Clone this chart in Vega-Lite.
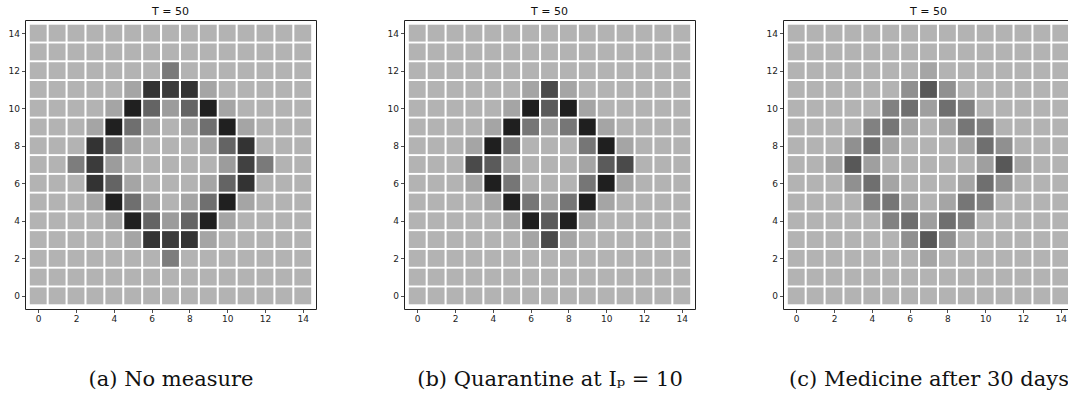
{
  "$schema": "https://vega.github.io/schema/vega-lite/v6.json",
  "background": "white",
  "padding": {"left": 7, "top": 5, "right": 0, "bottom": 0},
  "spacing": 69,
  "data": {"values": [
    {"p":"a","x":0,"y":14,"v":0},{"p":"a","x":1,"y":14,"v":0},{"p":"a","x":2,"y":14,"v":0},{"p":"a","x":3,"y":14,"v":0},{"p":"a","x":4,"y":14,"v":0},{"p":"a","x":5,"y":14,"v":0},{"p":"a","x":6,"y":14,"v":0},{"p":"a","x":7,"y":14,"v":0},{"p":"a","x":8,"y":14,"v":0},{"p":"a","x":9,"y":14,"v":0},{"p":"a","x":10,"y":14,"v":0},{"p":"a","x":11,"y":14,"v":0},{"p":"a","x":12,"y":14,"v":0},{"p":"a","x":13,"y":14,"v":0},{"p":"a","x":14,"y":14,"v":0},
    {"p":"a","x":0,"y":13,"v":0},{"p":"a","x":1,"y":13,"v":0},{"p":"a","x":2,"y":13,"v":0},{"p":"a","x":3,"y":13,"v":0},{"p":"a","x":4,"y":13,"v":0},{"p":"a","x":5,"y":13,"v":0},{"p":"a","x":6,"y":13,"v":0},{"p":"a","x":7,"y":13,"v":0},{"p":"a","x":8,"y":13,"v":0},{"p":"a","x":9,"y":13,"v":0},{"p":"a","x":10,"y":13,"v":0},{"p":"a","x":11,"y":13,"v":0},{"p":"a","x":12,"y":13,"v":0},{"p":"a","x":13,"y":13,"v":0},{"p":"a","x":14,"y":13,"v":0},
    {"p":"a","x":0,"y":12,"v":0},{"p":"a","x":1,"y":12,"v":0},{"p":"a","x":2,"y":12,"v":0},{"p":"a","x":3,"y":12,"v":0},{"p":"a","x":4,"y":12,"v":0},{"p":"a","x":5,"y":12,"v":0},{"p":"a","x":6,"y":12,"v":0},{"p":"a","x":7,"y":12,"v":0.3},{"p":"a","x":8,"y":12,"v":0},{"p":"a","x":9,"y":12,"v":0},{"p":"a","x":10,"y":12,"v":0},{"p":"a","x":11,"y":12,"v":0},{"p":"a","x":12,"y":12,"v":0},{"p":"a","x":13,"y":12,"v":0},{"p":"a","x":14,"y":12,"v":0},
    {"p":"a","x":0,"y":11,"v":0},{"p":"a","x":1,"y":11,"v":0},{"p":"a","x":2,"y":11,"v":0},{"p":"a","x":3,"y":11,"v":0},{"p":"a","x":4,"y":11,"v":0},{"p":"a","x":5,"y":11,"v":0.07},{"p":"a","x":6,"y":11,"v":0.71},{"p":"a","x":7,"y":11,"v":0.66},{"p":"a","x":8,"y":11,"v":0.71},{"p":"a","x":9,"y":11,"v":0.07},{"p":"a","x":10,"y":11,"v":0},{"p":"a","x":11,"y":11,"v":0},{"p":"a","x":12,"y":11,"v":0},{"p":"a","x":13,"y":11,"v":0},{"p":"a","x":14,"y":11,"v":0},
    {"p":"a","x":0,"y":10,"v":0},{"p":"a","x":1,"y":10,"v":0},{"p":"a","x":2,"y":10,"v":0},{"p":"a","x":3,"y":10,"v":0},{"p":"a","x":4,"y":10,"v":0.07},{"p":"a","x":5,"y":10,"v":0.83},{"p":"a","x":6,"y":10,"v":0.42},{"p":"a","x":7,"y":10,"v":0.12},{"p":"a","x":8,"y":10,"v":0.42},{"p":"a","x":9,"y":10,"v":0.83},{"p":"a","x":10,"y":10,"v":0.07},{"p":"a","x":11,"y":10,"v":0},{"p":"a","x":12,"y":10,"v":0},{"p":"a","x":13,"y":10,"v":0},{"p":"a","x":14,"y":10,"v":0},
    {"p":"a","x":0,"y":9,"v":0},{"p":"a","x":1,"y":9,"v":0},{"p":"a","x":2,"y":9,"v":0},{"p":"a","x":3,"y":9,"v":0.07},{"p":"a","x":4,"y":9,"v":0.83},{"p":"a","x":5,"y":9,"v":0.36},{"p":"a","x":6,"y":9,"v":0.07},{"p":"a","x":7,"y":9,"v":0},{"p":"a","x":8,"y":9,"v":0.07},{"p":"a","x":9,"y":9,"v":0.36},{"p":"a","x":10,"y":9,"v":0.83},{"p":"a","x":11,"y":9,"v":0.07},{"p":"a","x":12,"y":9,"v":0},{"p":"a","x":13,"y":9,"v":0},{"p":"a","x":14,"y":9,"v":0},
    {"p":"a","x":0,"y":8,"v":0},{"p":"a","x":1,"y":8,"v":0},{"p":"a","x":2,"y":8,"v":0},{"p":"a","x":3,"y":8,"v":0.71},{"p":"a","x":4,"y":8,"v":0.42},{"p":"a","x":5,"y":8,"v":0.07},{"p":"a","x":6,"y":8,"v":0},{"p":"a","x":7,"y":8,"v":0},{"p":"a","x":8,"y":8,"v":0},{"p":"a","x":9,"y":8,"v":0.07},{"p":"a","x":10,"y":8,"v":0.42},{"p":"a","x":11,"y":8,"v":0.71},{"p":"a","x":12,"y":8,"v":0},{"p":"a","x":13,"y":8,"v":0},{"p":"a","x":14,"y":8,"v":0},
    {"p":"a","x":0,"y":7,"v":0},{"p":"a","x":1,"y":7,"v":0},{"p":"a","x":2,"y":7,"v":0.28},{"p":"a","x":3,"y":7,"v":0.66},{"p":"a","x":4,"y":7,"v":0.12},{"p":"a","x":5,"y":7,"v":0},{"p":"a","x":6,"y":7,"v":0},{"p":"a","x":7,"y":7,"v":0},{"p":"a","x":8,"y":7,"v":0},{"p":"a","x":9,"y":7,"v":0},{"p":"a","x":10,"y":7,"v":0.12},{"p":"a","x":11,"y":7,"v":0.62},{"p":"a","x":12,"y":7,"v":0.3},{"p":"a","x":13,"y":7,"v":0},{"p":"a","x":14,"y":7,"v":0},
    {"p":"a","x":0,"y":6,"v":0},{"p":"a","x":1,"y":6,"v":0},{"p":"a","x":2,"y":6,"v":0},{"p":"a","x":3,"y":6,"v":0.71},{"p":"a","x":4,"y":6,"v":0.42},{"p":"a","x":5,"y":6,"v":0.07},{"p":"a","x":6,"y":6,"v":0},{"p":"a","x":7,"y":6,"v":0},{"p":"a","x":8,"y":6,"v":0},{"p":"a","x":9,"y":6,"v":0.07},{"p":"a","x":10,"y":6,"v":0.42},{"p":"a","x":11,"y":6,"v":0.71},{"p":"a","x":12,"y":6,"v":0},{"p":"a","x":13,"y":6,"v":0},{"p":"a","x":14,"y":6,"v":0},
    {"p":"a","x":0,"y":5,"v":0},{"p":"a","x":1,"y":5,"v":0},{"p":"a","x":2,"y":5,"v":0},{"p":"a","x":3,"y":5,"v":0.07},{"p":"a","x":4,"y":5,"v":0.83},{"p":"a","x":5,"y":5,"v":0.36},{"p":"a","x":6,"y":5,"v":0.07},{"p":"a","x":7,"y":5,"v":0},{"p":"a","x":8,"y":5,"v":0.07},{"p":"a","x":9,"y":5,"v":0.36},{"p":"a","x":10,"y":5,"v":0.83},{"p":"a","x":11,"y":5,"v":0.07},{"p":"a","x":12,"y":5,"v":0},{"p":"a","x":13,"y":5,"v":0},{"p":"a","x":14,"y":5,"v":0},
    {"p":"a","x":0,"y":4,"v":0},{"p":"a","x":1,"y":4,"v":0},{"p":"a","x":2,"y":4,"v":0},{"p":"a","x":3,"y":4,"v":0},{"p":"a","x":4,"y":4,"v":0.07},{"p":"a","x":5,"y":4,"v":0.83},{"p":"a","x":6,"y":4,"v":0.42},{"p":"a","x":7,"y":4,"v":0.12},{"p":"a","x":8,"y":4,"v":0.42},{"p":"a","x":9,"y":4,"v":0.83},{"p":"a","x":10,"y":4,"v":0.07},{"p":"a","x":11,"y":4,"v":0},{"p":"a","x":12,"y":4,"v":0},{"p":"a","x":13,"y":4,"v":0},{"p":"a","x":14,"y":4,"v":0},
    {"p":"a","x":0,"y":3,"v":0},{"p":"a","x":1,"y":3,"v":0},{"p":"a","x":2,"y":3,"v":0},{"p":"a","x":3,"y":3,"v":0},{"p":"a","x":4,"y":3,"v":0},{"p":"a","x":5,"y":3,"v":0.07},{"p":"a","x":6,"y":3,"v":0.71},{"p":"a","x":7,"y":3,"v":0.66},{"p":"a","x":8,"y":3,"v":0.71},{"p":"a","x":9,"y":3,"v":0.07},{"p":"a","x":10,"y":3,"v":0},{"p":"a","x":11,"y":3,"v":0},{"p":"a","x":12,"y":3,"v":0},{"p":"a","x":13,"y":3,"v":0},{"p":"a","x":14,"y":3,"v":0},
    {"p":"a","x":0,"y":2,"v":0},{"p":"a","x":1,"y":2,"v":0},{"p":"a","x":2,"y":2,"v":0},{"p":"a","x":3,"y":2,"v":0},{"p":"a","x":4,"y":2,"v":0},{"p":"a","x":5,"y":2,"v":0},{"p":"a","x":6,"y":2,"v":0},{"p":"a","x":7,"y":2,"v":0.28},{"p":"a","x":8,"y":2,"v":0},{"p":"a","x":9,"y":2,"v":0},{"p":"a","x":10,"y":2,"v":0},{"p":"a","x":11,"y":2,"v":0},{"p":"a","x":12,"y":2,"v":0},{"p":"a","x":13,"y":2,"v":0},{"p":"a","x":14,"y":2,"v":0},
    {"p":"a","x":0,"y":1,"v":0},{"p":"a","x":1,"y":1,"v":0},{"p":"a","x":2,"y":1,"v":0},{"p":"a","x":3,"y":1,"v":0},{"p":"a","x":4,"y":1,"v":0},{"p":"a","x":5,"y":1,"v":0},{"p":"a","x":6,"y":1,"v":0},{"p":"a","x":7,"y":1,"v":0},{"p":"a","x":8,"y":1,"v":0},{"p":"a","x":9,"y":1,"v":0},{"p":"a","x":10,"y":1,"v":0},{"p":"a","x":11,"y":1,"v":0},{"p":"a","x":12,"y":1,"v":0},{"p":"a","x":13,"y":1,"v":0},{"p":"a","x":14,"y":1,"v":0},
    {"p":"a","x":0,"y":0,"v":0},{"p":"a","x":1,"y":0,"v":0},{"p":"a","x":2,"y":0,"v":0},{"p":"a","x":3,"y":0,"v":0},{"p":"a","x":4,"y":0,"v":0},{"p":"a","x":5,"y":0,"v":0},{"p":"a","x":6,"y":0,"v":0},{"p":"a","x":7,"y":0,"v":0},{"p":"a","x":8,"y":0,"v":0},{"p":"a","x":9,"y":0,"v":0},{"p":"a","x":10,"y":0,"v":0},{"p":"a","x":11,"y":0,"v":0},{"p":"a","x":12,"y":0,"v":0},{"p":"a","x":13,"y":0,"v":0},{"p":"a","x":14,"y":0,"v":0},

    {"p":"b","x":0,"y":14,"v":0},{"p":"b","x":1,"y":14,"v":0},{"p":"b","x":2,"y":14,"v":0},{"p":"b","x":3,"y":14,"v":0},{"p":"b","x":4,"y":14,"v":0},{"p":"b","x":5,"y":14,"v":0},{"p":"b","x":6,"y":14,"v":0},{"p":"b","x":7,"y":14,"v":0},{"p":"b","x":8,"y":14,"v":0},{"p":"b","x":9,"y":14,"v":0},{"p":"b","x":10,"y":14,"v":0},{"p":"b","x":11,"y":14,"v":0},{"p":"b","x":12,"y":14,"v":0},{"p":"b","x":13,"y":14,"v":0},{"p":"b","x":14,"y":14,"v":0},
    {"p":"b","x":0,"y":13,"v":0},{"p":"b","x":1,"y":13,"v":0},{"p":"b","x":2,"y":13,"v":0},{"p":"b","x":3,"y":13,"v":0},{"p":"b","x":4,"y":13,"v":0},{"p":"b","x":5,"y":13,"v":0},{"p":"b","x":6,"y":13,"v":0},{"p":"b","x":7,"y":13,"v":0},{"p":"b","x":8,"y":13,"v":0},{"p":"b","x":9,"y":13,"v":0},{"p":"b","x":10,"y":13,"v":0},{"p":"b","x":11,"y":13,"v":0},{"p":"b","x":12,"y":13,"v":0},{"p":"b","x":13,"y":13,"v":0},{"p":"b","x":14,"y":13,"v":0},
    {"p":"b","x":0,"y":12,"v":0},{"p":"b","x":1,"y":12,"v":0},{"p":"b","x":2,"y":12,"v":0},{"p":"b","x":3,"y":12,"v":0},{"p":"b","x":4,"y":12,"v":0},{"p":"b","x":5,"y":12,"v":0},{"p":"b","x":6,"y":12,"v":0},{"p":"b","x":7,"y":12,"v":0},{"p":"b","x":8,"y":12,"v":0},{"p":"b","x":9,"y":12,"v":0},{"p":"b","x":10,"y":12,"v":0},{"p":"b","x":11,"y":12,"v":0},{"p":"b","x":12,"y":12,"v":0},{"p":"b","x":13,"y":12,"v":0},{"p":"b","x":14,"y":12,"v":0},
    {"p":"b","x":0,"y":11,"v":0},{"p":"b","x":1,"y":11,"v":0},{"p":"b","x":2,"y":11,"v":0},{"p":"b","x":3,"y":11,"v":0},{"p":"b","x":4,"y":11,"v":0},{"p":"b","x":5,"y":11,"v":0},{"p":"b","x":6,"y":11,"v":0.07},{"p":"b","x":7,"y":11,"v":0.57},{"p":"b","x":8,"y":11,"v":0.07},{"p":"b","x":9,"y":11,"v":0},{"p":"b","x":10,"y":11,"v":0},{"p":"b","x":11,"y":11,"v":0},{"p":"b","x":12,"y":11,"v":0},{"p":"b","x":13,"y":11,"v":0},{"p":"b","x":14,"y":11,"v":0},
    {"p":"b","x":0,"y":10,"v":0},{"p":"b","x":1,"y":10,"v":0},{"p":"b","x":2,"y":10,"v":0},{"p":"b","x":3,"y":10,"v":0},{"p":"b","x":4,"y":10,"v":0},{"p":"b","x":5,"y":10,"v":0.07},{"p":"b","x":6,"y":10,"v":0.84},{"p":"b","x":7,"y":10,"v":0.47},{"p":"b","x":8,"y":10,"v":0.84},{"p":"b","x":9,"y":10,"v":0.07},{"p":"b","x":10,"y":10,"v":0},{"p":"b","x":11,"y":10,"v":0},{"p":"b","x":12,"y":10,"v":0},{"p":"b","x":13,"y":10,"v":0},{"p":"b","x":14,"y":10,"v":0},
    {"p":"b","x":0,"y":9,"v":0},{"p":"b","x":1,"y":9,"v":0},{"p":"b","x":2,"y":9,"v":0},{"p":"b","x":3,"y":9,"v":0},{"p":"b","x":4,"y":9,"v":0.07},{"p":"b","x":5,"y":9,"v":0.84},{"p":"b","x":6,"y":9,"v":0.32},{"p":"b","x":7,"y":9,"v":0.07},{"p":"b","x":8,"y":9,"v":0.32},{"p":"b","x":9,"y":9,"v":0.84},{"p":"b","x":10,"y":9,"v":0.07},{"p":"b","x":11,"y":9,"v":0},{"p":"b","x":12,"y":9,"v":0},{"p":"b","x":13,"y":9,"v":0},{"p":"b","x":14,"y":9,"v":0},
    {"p":"b","x":0,"y":8,"v":0},{"p":"b","x":1,"y":8,"v":0},{"p":"b","x":2,"y":8,"v":0},{"p":"b","x":3,"y":8,"v":0.07},{"p":"b","x":4,"y":8,"v":0.84},{"p":"b","x":5,"y":8,"v":0.32},{"p":"b","x":6,"y":8,"v":0},{"p":"b","x":7,"y":8,"v":0},{"p":"b","x":8,"y":8,"v":0},{"p":"b","x":9,"y":8,"v":0.32},{"p":"b","x":10,"y":8,"v":0.84},{"p":"b","x":11,"y":8,"v":0.07},{"p":"b","x":12,"y":8,"v":0},{"p":"b","x":13,"y":8,"v":0},{"p":"b","x":14,"y":8,"v":0},
    {"p":"b","x":0,"y":7,"v":0},{"p":"b","x":1,"y":7,"v":0},{"p":"b","x":2,"y":7,"v":0},{"p":"b","x":3,"y":7,"v":0.57},{"p":"b","x":4,"y":7,"v":0.47},{"p":"b","x":5,"y":7,"v":0.07},{"p":"b","x":6,"y":7,"v":0},{"p":"b","x":7,"y":7,"v":0},{"p":"b","x":8,"y":7,"v":0},{"p":"b","x":9,"y":7,"v":0.07},{"p":"b","x":10,"y":7,"v":0.47},{"p":"b","x":11,"y":7,"v":0.57},{"p":"b","x":12,"y":7,"v":0},{"p":"b","x":13,"y":7,"v":0},{"p":"b","x":14,"y":7,"v":0},
    {"p":"b","x":0,"y":6,"v":0},{"p":"b","x":1,"y":6,"v":0},{"p":"b","x":2,"y":6,"v":0},{"p":"b","x":3,"y":6,"v":0.07},{"p":"b","x":4,"y":6,"v":0.84},{"p":"b","x":5,"y":6,"v":0.32},{"p":"b","x":6,"y":6,"v":0},{"p":"b","x":7,"y":6,"v":0},{"p":"b","x":8,"y":6,"v":0},{"p":"b","x":9,"y":6,"v":0.32},{"p":"b","x":10,"y":6,"v":0.84},{"p":"b","x":11,"y":6,"v":0.07},{"p":"b","x":12,"y":6,"v":0},{"p":"b","x":13,"y":6,"v":0},{"p":"b","x":14,"y":6,"v":0},
    {"p":"b","x":0,"y":5,"v":0},{"p":"b","x":1,"y":5,"v":0},{"p":"b","x":2,"y":5,"v":0},{"p":"b","x":3,"y":5,"v":0},{"p":"b","x":4,"y":5,"v":0.07},{"p":"b","x":5,"y":5,"v":0.84},{"p":"b","x":6,"y":5,"v":0.32},{"p":"b","x":7,"y":5,"v":0.07},{"p":"b","x":8,"y":5,"v":0.32},{"p":"b","x":9,"y":5,"v":0.84},{"p":"b","x":10,"y":5,"v":0.07},{"p":"b","x":11,"y":5,"v":0},{"p":"b","x":12,"y":5,"v":0},{"p":"b","x":13,"y":5,"v":0},{"p":"b","x":14,"y":5,"v":0},
    {"p":"b","x":0,"y":4,"v":0},{"p":"b","x":1,"y":4,"v":0},{"p":"b","x":2,"y":4,"v":0},{"p":"b","x":3,"y":4,"v":0},{"p":"b","x":4,"y":4,"v":0},{"p":"b","x":5,"y":4,"v":0.07},{"p":"b","x":6,"y":4,"v":0.84},{"p":"b","x":7,"y":4,"v":0.47},{"p":"b","x":8,"y":4,"v":0.84},{"p":"b","x":9,"y":4,"v":0.07},{"p":"b","x":10,"y":4,"v":0},{"p":"b","x":11,"y":4,"v":0},{"p":"b","x":12,"y":4,"v":0},{"p":"b","x":13,"y":4,"v":0},{"p":"b","x":14,"y":4,"v":0},
    {"p":"b","x":0,"y":3,"v":0},{"p":"b","x":1,"y":3,"v":0},{"p":"b","x":2,"y":3,"v":0},{"p":"b","x":3,"y":3,"v":0},{"p":"b","x":4,"y":3,"v":0},{"p":"b","x":5,"y":3,"v":0},{"p":"b","x":6,"y":3,"v":0.07},{"p":"b","x":7,"y":3,"v":0.57},{"p":"b","x":8,"y":3,"v":0.07},{"p":"b","x":9,"y":3,"v":0},{"p":"b","x":10,"y":3,"v":0},{"p":"b","x":11,"y":3,"v":0},{"p":"b","x":12,"y":3,"v":0},{"p":"b","x":13,"y":3,"v":0},{"p":"b","x":14,"y":3,"v":0},
    {"p":"b","x":0,"y":2,"v":0},{"p":"b","x":1,"y":2,"v":0},{"p":"b","x":2,"y":2,"v":0},{"p":"b","x":3,"y":2,"v":0},{"p":"b","x":4,"y":2,"v":0},{"p":"b","x":5,"y":2,"v":0},{"p":"b","x":6,"y":2,"v":0},{"p":"b","x":7,"y":2,"v":0},{"p":"b","x":8,"y":2,"v":0},{"p":"b","x":9,"y":2,"v":0},{"p":"b","x":10,"y":2,"v":0},{"p":"b","x":11,"y":2,"v":0},{"p":"b","x":12,"y":2,"v":0},{"p":"b","x":13,"y":2,"v":0},{"p":"b","x":14,"y":2,"v":0},
    {"p":"b","x":0,"y":1,"v":0},{"p":"b","x":1,"y":1,"v":0},{"p":"b","x":2,"y":1,"v":0},{"p":"b","x":3,"y":1,"v":0},{"p":"b","x":4,"y":1,"v":0},{"p":"b","x":5,"y":1,"v":0},{"p":"b","x":6,"y":1,"v":0},{"p":"b","x":7,"y":1,"v":0},{"p":"b","x":8,"y":1,"v":0},{"p":"b","x":9,"y":1,"v":0},{"p":"b","x":10,"y":1,"v":0},{"p":"b","x":11,"y":1,"v":0},{"p":"b","x":12,"y":1,"v":0},{"p":"b","x":13,"y":1,"v":0},{"p":"b","x":14,"y":1,"v":0},
    {"p":"b","x":0,"y":0,"v":0},{"p":"b","x":1,"y":0,"v":0},{"p":"b","x":2,"y":0,"v":0},{"p":"b","x":3,"y":0,"v":0},{"p":"b","x":4,"y":0,"v":0},{"p":"b","x":5,"y":0,"v":0},{"p":"b","x":6,"y":0,"v":0},{"p":"b","x":7,"y":0,"v":0},{"p":"b","x":8,"y":0,"v":0},{"p":"b","x":9,"y":0,"v":0},{"p":"b","x":10,"y":0,"v":0},{"p":"b","x":11,"y":0,"v":0},{"p":"b","x":12,"y":0,"v":0},{"p":"b","x":13,"y":0,"v":0},{"p":"b","x":14,"y":0,"v":0},

    {"p":"c","x":0,"y":14,"v":0},{"p":"c","x":1,"y":14,"v":0},{"p":"c","x":2,"y":14,"v":0},{"p":"c","x":3,"y":14,"v":0},{"p":"c","x":4,"y":14,"v":0},{"p":"c","x":5,"y":14,"v":0},{"p":"c","x":6,"y":14,"v":0},{"p":"c","x":7,"y":14,"v":0},{"p":"c","x":8,"y":14,"v":0},{"p":"c","x":9,"y":14,"v":0},{"p":"c","x":10,"y":14,"v":0},{"p":"c","x":11,"y":14,"v":0},{"p":"c","x":12,"y":14,"v":0},{"p":"c","x":13,"y":14,"v":0},{"p":"c","x":14,"y":14,"v":0},
    {"p":"c","x":0,"y":13,"v":0},{"p":"c","x":1,"y":13,"v":0},{"p":"c","x":2,"y":13,"v":0},{"p":"c","x":3,"y":13,"v":0},{"p":"c","x":4,"y":13,"v":0},{"p":"c","x":5,"y":13,"v":0},{"p":"c","x":6,"y":13,"v":0},{"p":"c","x":7,"y":13,"v":0},{"p":"c","x":8,"y":13,"v":0},{"p":"c","x":9,"y":13,"v":0},{"p":"c","x":10,"y":13,"v":0},{"p":"c","x":11,"y":13,"v":0},{"p":"c","x":12,"y":13,"v":0},{"p":"c","x":13,"y":13,"v":0},{"p":"c","x":14,"y":13,"v":0},
    {"p":"c","x":0,"y":12,"v":0},{"p":"c","x":1,"y":12,"v":0},{"p":"c","x":2,"y":12,"v":0},{"p":"c","x":3,"y":12,"v":0},{"p":"c","x":4,"y":12,"v":0},{"p":"c","x":5,"y":12,"v":0},{"p":"c","x":6,"y":12,"v":0},{"p":"c","x":7,"y":12,"v":0.07},{"p":"c","x":8,"y":12,"v":0},{"p":"c","x":9,"y":12,"v":0},{"p":"c","x":10,"y":12,"v":0},{"p":"c","x":11,"y":12,"v":0},{"p":"c","x":12,"y":12,"v":0},{"p":"c","x":13,"y":12,"v":0},{"p":"c","x":14,"y":12,"v":0},
    {"p":"c","x":0,"y":11,"v":0},{"p":"c","x":1,"y":11,"v":0},{"p":"c","x":2,"y":11,"v":0},{"p":"c","x":3,"y":11,"v":0},{"p":"c","x":4,"y":11,"v":0},{"p":"c","x":5,"y":11,"v":0},{"p":"c","x":6,"y":11,"v":0.18},{"p":"c","x":7,"y":11,"v":0.49},{"p":"c","x":8,"y":11,"v":0.18},{"p":"c","x":9,"y":11,"v":0},{"p":"c","x":10,"y":11,"v":0},{"p":"c","x":11,"y":11,"v":0},{"p":"c","x":12,"y":11,"v":0},{"p":"c","x":13,"y":11,"v":0},{"p":"c","x":14,"y":11,"v":0},
    {"p":"c","x":0,"y":10,"v":0},{"p":"c","x":1,"y":10,"v":0},{"p":"c","x":2,"y":10,"v":0},{"p":"c","x":3,"y":10,"v":0},{"p":"c","x":4,"y":10,"v":0},{"p":"c","x":5,"y":10,"v":0.26},{"p":"c","x":6,"y":10,"v":0.36},{"p":"c","x":7,"y":10,"v":0.1},{"p":"c","x":8,"y":10,"v":0.36},{"p":"c","x":9,"y":10,"v":0.26},{"p":"c","x":10,"y":10,"v":0},{"p":"c","x":11,"y":10,"v":0},{"p":"c","x":12,"y":10,"v":0},{"p":"c","x":13,"y":10,"v":0},{"p":"c","x":14,"y":10,"v":0},
    {"p":"c","x":0,"y":9,"v":0},{"p":"c","x":1,"y":9,"v":0},{"p":"c","x":2,"y":9,"v":0},{"p":"c","x":3,"y":9,"v":0},{"p":"c","x":4,"y":9,"v":0.26},{"p":"c","x":5,"y":9,"v":0.32},{"p":"c","x":6,"y":9,"v":0.07},{"p":"c","x":7,"y":9,"v":0},{"p":"c","x":8,"y":9,"v":0.07},{"p":"c","x":9,"y":9,"v":0.32},{"p":"c","x":10,"y":9,"v":0.26},{"p":"c","x":11,"y":9,"v":0},{"p":"c","x":12,"y":9,"v":0},{"p":"c","x":13,"y":9,"v":0},{"p":"c","x":14,"y":9,"v":0},
    {"p":"c","x":0,"y":8,"v":0},{"p":"c","x":1,"y":8,"v":0},{"p":"c","x":2,"y":8,"v":0},{"p":"c","x":3,"y":8,"v":0.18},{"p":"c","x":4,"y":8,"v":0.36},{"p":"c","x":5,"y":8,"v":0.07},{"p":"c","x":6,"y":8,"v":0},{"p":"c","x":7,"y":8,"v":0},{"p":"c","x":8,"y":8,"v":0},{"p":"c","x":9,"y":8,"v":0.07},{"p":"c","x":10,"y":8,"v":0.36},{"p":"c","x":11,"y":8,"v":0.18},{"p":"c","x":12,"y":8,"v":0},{"p":"c","x":13,"y":8,"v":0},{"p":"c","x":14,"y":8,"v":0},
    {"p":"c","x":0,"y":7,"v":0},{"p":"c","x":1,"y":7,"v":0},{"p":"c","x":2,"y":7,"v":0.07},{"p":"c","x":3,"y":7,"v":0.49},{"p":"c","x":4,"y":7,"v":0.1},{"p":"c","x":5,"y":7,"v":0},{"p":"c","x":6,"y":7,"v":0},{"p":"c","x":7,"y":7,"v":0},{"p":"c","x":8,"y":7,"v":0},{"p":"c","x":9,"y":7,"v":0},{"p":"c","x":10,"y":7,"v":0.1},{"p":"c","x":11,"y":7,"v":0.49},{"p":"c","x":12,"y":7,"v":0.07},{"p":"c","x":13,"y":7,"v":0},{"p":"c","x":14,"y":7,"v":0},
    {"p":"c","x":0,"y":6,"v":0},{"p":"c","x":1,"y":6,"v":0},{"p":"c","x":2,"y":6,"v":0},{"p":"c","x":3,"y":6,"v":0.18},{"p":"c","x":4,"y":6,"v":0.36},{"p":"c","x":5,"y":6,"v":0.07},{"p":"c","x":6,"y":6,"v":0},{"p":"c","x":7,"y":6,"v":0},{"p":"c","x":8,"y":6,"v":0},{"p":"c","x":9,"y":6,"v":0.07},{"p":"c","x":10,"y":6,"v":0.36},{"p":"c","x":11,"y":6,"v":0.18},{"p":"c","x":12,"y":6,"v":0},{"p":"c","x":13,"y":6,"v":0},{"p":"c","x":14,"y":6,"v":0},
    {"p":"c","x":0,"y":5,"v":0},{"p":"c","x":1,"y":5,"v":0},{"p":"c","x":2,"y":5,"v":0},{"p":"c","x":3,"y":5,"v":0},{"p":"c","x":4,"y":5,"v":0.26},{"p":"c","x":5,"y":5,"v":0.32},{"p":"c","x":6,"y":5,"v":0.07},{"p":"c","x":7,"y":5,"v":0},{"p":"c","x":8,"y":5,"v":0.07},{"p":"c","x":9,"y":5,"v":0.32},{"p":"c","x":10,"y":5,"v":0.26},{"p":"c","x":11,"y":5,"v":0},{"p":"c","x":12,"y":5,"v":0},{"p":"c","x":13,"y":5,"v":0},{"p":"c","x":14,"y":5,"v":0},
    {"p":"c","x":0,"y":4,"v":0},{"p":"c","x":1,"y":4,"v":0},{"p":"c","x":2,"y":4,"v":0},{"p":"c","x":3,"y":4,"v":0},{"p":"c","x":4,"y":4,"v":0},{"p":"c","x":5,"y":4,"v":0.26},{"p":"c","x":6,"y":4,"v":0.36},{"p":"c","x":7,"y":4,"v":0.1},{"p":"c","x":8,"y":4,"v":0.36},{"p":"c","x":9,"y":4,"v":0.26},{"p":"c","x":10,"y":4,"v":0},{"p":"c","x":11,"y":4,"v":0},{"p":"c","x":12,"y":4,"v":0},{"p":"c","x":13,"y":4,"v":0},{"p":"c","x":14,"y":4,"v":0},
    {"p":"c","x":0,"y":3,"v":0},{"p":"c","x":1,"y":3,"v":0},{"p":"c","x":2,"y":3,"v":0},{"p":"c","x":3,"y":3,"v":0},{"p":"c","x":4,"y":3,"v":0},{"p":"c","x":5,"y":3,"v":0},{"p":"c","x":6,"y":3,"v":0.18},{"p":"c","x":7,"y":3,"v":0.49},{"p":"c","x":8,"y":3,"v":0.18},{"p":"c","x":9,"y":3,"v":0},{"p":"c","x":10,"y":3,"v":0},{"p":"c","x":11,"y":3,"v":0},{"p":"c","x":12,"y":3,"v":0},{"p":"c","x":13,"y":3,"v":0},{"p":"c","x":14,"y":3,"v":0},
    {"p":"c","x":0,"y":2,"v":0},{"p":"c","x":1,"y":2,"v":0},{"p":"c","x":2,"y":2,"v":0},{"p":"c","x":3,"y":2,"v":0},{"p":"c","x":4,"y":2,"v":0},{"p":"c","x":5,"y":2,"v":0},{"p":"c","x":6,"y":2,"v":0},{"p":"c","x":7,"y":2,"v":0.07},{"p":"c","x":8,"y":2,"v":0},{"p":"c","x":9,"y":2,"v":0},{"p":"c","x":10,"y":2,"v":0},{"p":"c","x":11,"y":2,"v":0},{"p":"c","x":12,"y":2,"v":0},{"p":"c","x":13,"y":2,"v":0},{"p":"c","x":14,"y":2,"v":0},
    {"p":"c","x":0,"y":1,"v":0},{"p":"c","x":1,"y":1,"v":0},{"p":"c","x":2,"y":1,"v":0},{"p":"c","x":3,"y":1,"v":0},{"p":"c","x":4,"y":1,"v":0},{"p":"c","x":5,"y":1,"v":0},{"p":"c","x":6,"y":1,"v":0},{"p":"c","x":7,"y":1,"v":0},{"p":"c","x":8,"y":1,"v":0},{"p":"c","x":9,"y":1,"v":0},{"p":"c","x":10,"y":1,"v":0},{"p":"c","x":11,"y":1,"v":0},{"p":"c","x":12,"y":1,"v":0},{"p":"c","x":13,"y":1,"v":0},{"p":"c","x":14,"y":1,"v":0},
    {"p":"c","x":0,"y":0,"v":0},{"p":"c","x":1,"y":0,"v":0},{"p":"c","x":2,"y":0,"v":0},{"p":"c","x":3,"y":0,"v":0},{"p":"c","x":4,"y":0,"v":0},{"p":"c","x":5,"y":0,"v":0},{"p":"c","x":6,"y":0,"v":0},{"p":"c","x":7,"y":0,"v":0},{"p":"c","x":8,"y":0,"v":0},{"p":"c","x":9,"y":0,"v":0},{"p":"c","x":10,"y":0,"v":0},{"p":"c","x":11,"y":0,"v":0},{"p":"c","x":12,"y":0,"v":0},{"p":"c","x":13,"y":0,"v":0},{"p":"c","x":14,"y":0,"v":0}
  ]},
  "config": {
    "font": "DejaVu Sans",
    "view": {"stroke": "#222222", "strokeWidth": 1},
    "axis": {
      "grid": false,
      "domain": false,
      "ticks": true,
      "tickSize": 3.5,
      "tickColor": "#222222",
      "tickWidth": 0.8,
      "labelFont": "DejaVu Sans",
      "labelFontSize": 9,
      "labelColor": "#222222",
      "labelPadding": 2,
      "titleFont": "DejaVu Serif",
      "titleFontSize": 21,
      "titleFontWeight": "normal",
      "titleColor": "#111111",
      "titlePadding": 45
    },
    "title": {"font": "DejaVu Sans", "fontSize": 11, "fontWeight": "normal", "color": "#111111", "offset": 3}
  },
  "hconcat": [
    {
      "title": "T = 50",
      "width": 291,
      "height": 289,
      "transform": [{"filter": "datum.p == 'a'"}],
      "mark": {"type": "square", "size": 284, "opacity": 1, "strokeWidth": 0},
      "encoding": {
        "x": {"field": "x", "type": "quantitative", "scale": {"domain": [-0.7, 14.7], "nice": false, "zero": false}, "axis": {"values": [0, 2, 4, 6, 8, 10, 12, 14], "title": "(a) No measure"}},
        "y": {"field": "y", "type": "quantitative", "scale": {"domain": [-0.7, 14.7], "nice": false, "zero": false}, "axis": {"values": [0, 2, 4, 6, 8, 10, 12, 14], "title": null}},
        "color": {"field": "v", "type": "quantitative", "scale": {"domain": [0, 1], "range": ["#b3b3b3", "#000000"]}, "legend": null}
      }
    },
    {
      "title": "T = 50",
      "width": 291,
      "height": 289,
      "transform": [{"filter": "datum.p == 'b'"}],
      "mark": {"type": "square", "size": 284, "opacity": 1, "strokeWidth": 0},
      "encoding": {
        "x": {"field": "x", "type": "quantitative", "scale": {"domain": [-0.7, 14.7], "nice": false, "zero": false}, "axis": {"values": [0, 2, 4, 6, 8, 10, 12, 14], "title": "(b) Quarantine at Iₚ = 10"}},
        "y": {"field": "y", "type": "quantitative", "scale": {"domain": [-0.7, 14.7], "nice": false, "zero": false}, "axis": {"values": [0, 2, 4, 6, 8, 10, 12, 14], "title": null}},
        "color": {"field": "v", "type": "quantitative", "scale": {"domain": [0, 1], "range": ["#b3b3b3", "#000000"]}, "legend": null}
      }
    },
    {
      "title": "T = 50",
      "width": 291,
      "height": 289,
      "transform": [{"filter": "datum.p == 'c'"}],
      "mark": {"type": "square", "size": 284, "opacity": 1, "strokeWidth": 0},
      "encoding": {
        "x": {"field": "x", "type": "quantitative", "scale": {"domain": [-0.7, 14.7], "nice": false, "zero": false}, "axis": {"values": [0, 2, 4, 6, 8, 10, 12, 14], "title": "(c) Medicine after 30 days"}},
        "y": {"field": "y", "type": "quantitative", "scale": {"domain": [-0.7, 14.7], "nice": false, "zero": false}, "axis": {"values": [0, 2, 4, 6, 8, 10, 12, 14], "title": null}},
        "color": {"field": "v", "type": "quantitative", "scale": {"domain": [0, 1], "range": ["#b3b3b3", "#000000"]}, "legend": null}
      }
    }
  ]
}
